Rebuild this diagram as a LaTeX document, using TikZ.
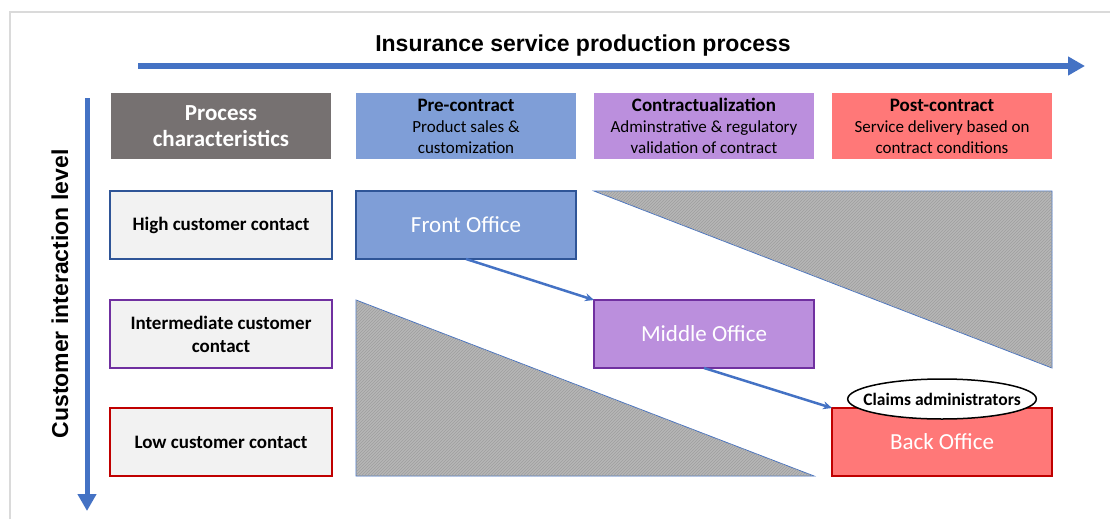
\documentclass[tikz,border=0pt]{standalone}
\usepackage{fontspec}
\setmainfont{Carlito}
\newfontfamily\arialfont{Liberation Sans}
\usepackage{tikz}
\usetikzlibrary{positioning,shapes.geometric,arrows.meta,patterns}

\definecolor{axisblue}{HTML}{4472C4}
\definecolor{procgray}{HTML}{767171}
\definecolor{preblue}{HTML}{7F9ED7}
\definecolor{contrpurple}{HTML}{BB8FDD}
\definecolor{postred}{HTML}{FF7878}
\definecolor{darkblue}{HTML}{2F5597}
\definecolor{darkpurple}{HTML}{7030A0}
\definecolor{darkred}{HTML}{C00000}
\definecolor{rowgray}{HTML}{F2F2F2}
\definecolor{framegray}{HTML}{DADADA}

\begin{document}
\begin{tikzpicture}[x=1pt, y=-1pt, node distance = 18pt,
        head/.style = {minimum width=220pt, minimum height=66pt, inner sep=0pt, outer sep=0pt, align=center,
                font=\fontsize{17}{21}\selectfont},
        level/.style = {draw=#1, line width=2pt, fill=rowgray, minimum width=222pt, minimum height=68pt,
                inner sep=0pt, outer sep=0pt, align=center, font=\fontsize{19}{23}\selectfont\bfseries},
        office/.style = {draw=#1, line width=2pt, minimum width=220pt, minimum height=68pt,
                inner sep=0pt, outer sep=0pt, text=white, font=\fontsize{23}{26}\selectfont},
        axis/.style = {axisblue, line width=5pt, -{Triangle[length=17pt, width=18pt]}},
        link/.style = {axisblue, line width=2.5pt, -{Stealth[length=9pt, width=8pt]}},
        hatch/.style = {draw=axisblue, line width=0.8pt, fill={rgb,255:red,182;green,182;blue,182},
                postaction={pattern=north east lines, pattern color=black!38}}]

        \useasboundingbox (0,0) rectangle (1110,519);
        \draw[framegray, line width=1.5pt] (10,519) -- (10,12) -- (1110,12);

        % axes
        \coordinate (h0) at (138,66);
        \coordinate (h1) at (1085,66);
        \coordinate (v0) at (87,98);
        \coordinate (v1) at (87,511);
        \draw[axis] (h0) -- (h1);
        \draw[axis] (v0) -- (v1);

        \node[font=\arialfont\fontsize{23}{26}\selectfont\bfseries] (title) at (583,46)
                {Insurance service production process};
        \node[rotate=90, font=\arialfont\fontsize{23}{26}\selectfont\bfseries] (ylabel) at (60,294)
                {Customer interaction level};

        % header row
        \node[head, fill=procgray, text=white, font=\fontsize{23}{26}\selectfont\bfseries] (proc) at (221,126)
                {Process\\characteristics};
        \node[head, fill=preblue, right=25pt of proc] (pre)
                {{\fontsize{19}{21}\selectfont\bfseries Pre-contract}\\Product sales \&\\customization};
        \node[head, fill=contrpurple, right=of pre] (contr)
                {{\fontsize{19}{21}\selectfont\bfseries Contractualization}\\Adminstrative \& regulatory\\validation of contract};
        \node[head, fill=postred, right=of contr] (post)
                {{\fontsize{19}{21}\selectfont\bfseries Post-contract}\\Service delivery based on\\contract conditions};

        % levels
        \node[level=darkblue, below=32pt of proc] (high) {High customer contact};
        \node[level=darkpurple, below=41pt of high] (inter) {Intermediate customer\\contact};
        \node[level=darkred, below=40pt of inter] (low) {Low customer contact};

        % offices
        \node[office=darkblue, fill=preblue, right=24pt of high] (front) {Front Office};
        \node[office=darkpurple, fill=contrpurple, below right=41pt and 18pt of front] (middle) {Middle Office};
        \node[office=darkred, fill=postred, below right=40pt and 18pt of middle] (back) {Back Office};

        \fill[hatch] (middle.west |- front.north) -- (back.east |- front.north) -- (back.east |- middle.south) -- cycle;
        \fill[hatch] (front.west |- inter.north) -- (front.west |- low.south) -- (middle.east |- low.south) -- cycle;

        \node[ellipse, draw, line width=1.5pt, fill=white, minimum height=40pt, inner xsep=-12pt, inner ysep=0pt,
                font=\fontsize{17.5}{20}\selectfont\bfseries] (claims) at ([yshift=9pt]back.north)
                {Claims administrators};

        \draw[link] (front.south) -- (middle.north west);
        \draw[link] (middle.south) -- (back.north west);

\end{tikzpicture}
\end{document}
